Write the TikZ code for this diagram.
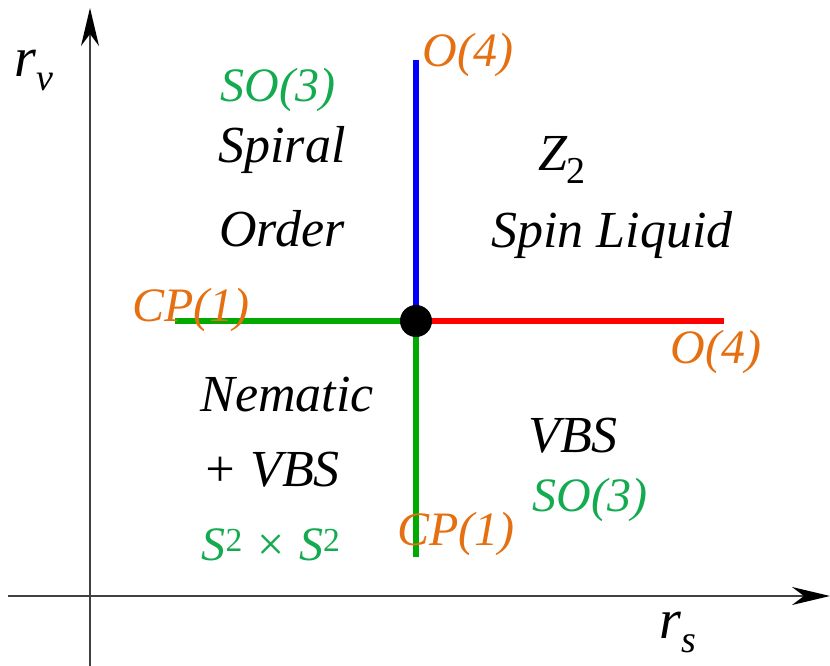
\documentclass[tikz,border=0pt]{standalone}
\usepackage{fontspec}
\setmainfont{Liberation Serif}
\usetikzlibrary{arrows.meta}
\definecolor{orng}{RGB}{228,112,18}
\definecolor{grtext}{RGB}{20,170,80}
\definecolor{grline}{RGB}{0,170,0}
\tikzset{
  axis/.style={line width=2.5pt, draw=black!75, -{Stealth[length=38pt,width=18pt,inset=12pt,color=black]}},
  phase/.style={line width=6pt},
  lbl/.style={font=\fontsize{52}{56}\selectfont\itshape, inner sep=0pt},
  orlbl/.style={lbl, font=\fontsize{48}{52}\selectfont\itshape, text=orng},
  grlbl/.style={lbl, font=\fontsize{48}{52}\selectfont\itshape, text=grtext},
}
\begin{document}
\begin{tikzpicture}[x=1pt,y=-1pt]
\useasboundingbox (0,0) rectangle (830,666);
\coordinate (vb) at (90,666);
\coordinate (vt) at (90,8);
\coordinate (hl) at (8,596);
\coordinate (hr) at (830,596);
\draw[axis] (vb) -- (vt);
\draw[axis] (hl) -- (hr);
\node[lbl, font=\fontsize{56}{60}\selectfont\itshape] (rv) at (34,70) {r\raisebox{-0.25em}{\fontsize{38}{40}\selectfont v}};
\node[lbl, font=\fontsize{56}{60}\selectfont\itshape] (rs) at (678,632) {r\raisebox{-0.25em}{\fontsize{38}{40}\selectfont s}};
\coordinate (c) at (416,321);
\coordinate (top) at (416,60);
\coordinate (right) at (724,321);
\coordinate (left) at (175,321);
\coordinate (bot) at (416,557);
\draw[phase, blue] (c) -- (top);
\draw[phase, red] (c) -- (right);
\draw[phase, grline] (c) -- (left);
\draw[phase, grline] (c) -- (bot);
\fill (c) circle (16);
\node[orlbl] (o4t) at (468,55) {O(4)};
\node[orlbl] (o4r) at (716,352) {O(4)};
\node[orlbl] (cp1l) at (191,310) {CP(1)};
\node[orlbl] (cp1b) at (456,534) {CP(1)};
\node[grlbl] (so3t) at (278,90) {SO(3)};
\node[grlbl] (so3b) at (590,500) {SO(3)};
\node[grlbl] (s2) at (271,545) {S\textsuperscript{\upshape 2} × S\textsuperscript{\upshape 2}};
\node[lbl] (spiral) at (282,150) {Spiral};
\node[lbl] (order) at (282,229) {Order};
\node[lbl] (z2) at (562,160) {Z\raisebox{-0.25em}{\upshape\fontsize{38}{40}\selectfont 2}};
\node[lbl] (sl) at (612,235) {Spin Liquid};
\node[lbl] (nem) at (287,395) {Nematic};
\node[lbl] (vbs1) at (271,470) {+ VBS};
\node[lbl] (vbs2) at (573,436) {VBS};
\end{tikzpicture}
\end{document}
